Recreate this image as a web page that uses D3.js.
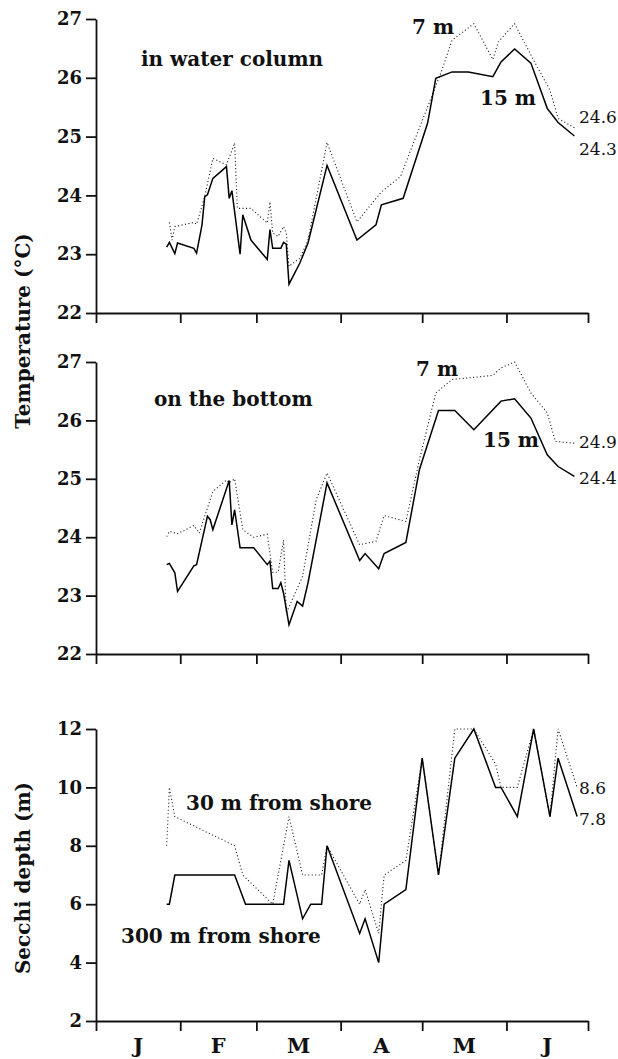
<!DOCTYPE html>
<html>
<head>
<meta charset="utf-8">
<script src="https://cdn.jsdelivr.net/npm/d3@7"></script>
<style>
  html, body { margin: 0; padding: 0; background: #fff; }
  svg { display: block; }
  .tick text { font-family: "DejaVu Serif", serif; font-weight: bold; font-size: 18px; fill: #111; }
  .lbl { font-family: "DejaVu Serif", serif; font-weight: bold; fill: #111; }
  .val { font-family: "DejaVu Serif", serif; font-size: 17px; fill: #111; }
</style>
</head>
<body>
<svg id="chart" width="618" height="1059"></svg>
<script>
// Month axis
const monthStarts = ["01-01", "02-01", "03-01", "04-01", "05-01", "06-01", "07-01"];
const monthLabels = ["J", "F", "M", "A", "M", "J"];

// Temperature ticks and Secchi ticks
const tempTicks = [22, 23, 24, 25, 26, 27];
const secchiTicks = [2, 4, 6, 8, 10, 12];

// Water column temperature, 15 m
const colDates15 = ["01-27","01-28","01-30","01-31","02-06","02-07","02-09","02-10","02-11","02-13","02-18","02-19","02-20","02-23","02-24","02-27","03-05","03-06","03-07","03-10","03-11","03-12","03-13","03-17","03-20","03-27","04-07","04-14","04-16","04-24","05-03","05-06","05-12","05-18","05-27","05-30","06-04","06-10","06-16","06-20","06-26"];
const colTemp15 = [23.12,23.20,23.01,23.19,23.10,23.02,23.50,23.98,24.01,24.29,24.49,23.95,24.08,23.00,23.67,23.24,22.91,23.42,23.10,23.10,23.20,23.17,22.49,22.85,23.19,24.51,23.24,23.50,23.84,23.95,25.23,25.99,26.10,26.10,26.02,26.27,26.49,26.25,25.48,25.24,25.01];

// Water column temperature, 7 m
const colDates7 = ["01-28","01-29","01-30","02-06","02-07","02-10","02-13","02-18","02-21","02-22","02-27","03-05","03-06","03-07","03-09","03-11","03-12","03-13","03-14","03-17","03-20","03-27","04-07","04-16","04-23","05-08","05-12","05-20","05-27","05-29","06-04","06-11","06-17","06-20","06-26"];
const colTemp7 = [23.54,23.24,23.47,23.54,23.51,23.98,24.63,24.52,24.89,23.78,23.78,23.53,23.89,23.36,23.30,23.47,23.36,22.79,22.83,22.93,23.24,24.90,23.55,24.06,24.32,26.10,26.64,26.92,26.31,26.61,26.92,26.30,25.79,25.31,25.15];

// Bottom temperature, 15 m
const botDates15 = ["01-27","01-28","01-30","01-31","02-06","02-07","02-11","02-12","02-13","02-19","02-20","02-21","02-23","02-28","03-05","03-06","03-07","03-09","03-10","03-11","03-13","03-16","03-18","03-20","03-27","04-08","04-10","04-15","04-17","04-25","04-30","05-07","05-13","05-20","05-30","06-04","06-10","06-16","06-20","06-26"];
const botTemp15 = [23.53,23.55,23.39,23.07,23.51,23.53,24.36,24.30,24.13,24.97,24.21,24.47,23.82,23.82,23.53,23.59,23.12,23.12,23.22,23.04,22.50,22.90,22.82,23.22,24.93,23.60,23.72,23.46,23.72,23.91,25.16,26.17,26.17,25.84,26.33,26.37,26.04,25.41,25.21,25.04];

// Bottom temperature, 7 m
const botDates7 = ["01-27","01-28","01-31","02-06","02-08","02-10","02-13","02-18","02-19","02-21","02-24","02-28","03-05","03-07","03-09","03-11","03-12","03-18","03-23","03-27","04-08","04-14","04-17","04-25","04-30","05-06","05-12","05-27","05-30","06-04","06-10","06-16","06-19","06-26"];
const botTemp7 = [24.01,24.10,24.06,24.20,24.07,24.36,24.78,24.98,24.93,25.00,24.13,24.00,24.05,23.40,23.40,23.95,22.70,23.33,24.64,25.10,23.87,23.93,24.37,24.27,25.33,26.47,26.70,26.77,26.90,27.00,26.47,26.13,25.64,25.61];

// Secchi depth, 300 m from shore
const secDates300 = ["01-27","01-28","01-30","02-21","02-25","03-11","03-13","03-18","03-21","03-25","03-27","04-08","04-10","04-15","04-17","04-25","05-01","05-07","05-13","05-20","05-28","05-30","06-05","06-11","06-17","06-20","06-27"];
const secchi300 = [6,6,7,7,6,6,7.5,5.5,6,6,8,5,5.5,4,6,6.5,11,7,11,12,10,10,9,12,9,11,9];

// Secchi depth, 30 m from shore
const secDates30 = ["01-27","01-28","01-30","02-21","02-24","03-07","03-13","03-18","03-25","03-27","04-08","04-10","04-15","04-17","04-25","05-01","05-07","05-13","05-20","05-28","05-30","06-05","06-11","06-17","06-20","06-27"];
const secchi30 = [8,10,9,8,7,6,9,7,7,8,6,6.5,5,7,7.5,11,7,12,12,10.8,10,10,12,9,12,10];

// Season means printed at the right end of each pair
const colMeans = ["24.6", "24.3"];
const botMeans = ["24.9", "24.4"];
const secMeans = ["8.6", "7.8"];

const parse = d3.timeParse("%m-%d");
const svg = d3.select("#chart");

const x = d3.scaleTime()
  .domain([parse(monthStarts[0]), parse(monthStarts[monthStarts.length - 1])])
  .range([96, 588]);

const panels = [
  { domain: [22, 27], range: [313, 19], ticks: tempTicks },
  { domain: [22, 27], range: [654, 362], ticks: tempTicks },
  { domain: [2, 12], range: [1021, 729], ticks: secchiTicks }
];

panels.forEach(p => {
  p.y = d3.scaleLinear().domain(p.domain).range(p.range);
  const g = svg.append("g");
  const ya = g.append("g")
    .attr("transform", "translate(96,0)")
    .call(d3.axisLeft(p.y).tickValues(p.ticks).tickSize(10).tickSizeOuter(0).tickPadding(4).tickFormat(d3.format("d")));
  const xa = g.append("g")
    .attr("transform", `translate(0,${p.range[0]})`)
    .call(d3.axisBottom(x).tickValues(monthStarts.map(parse)).tickSize(10).tickSizeOuter(0).tickFormat(""));
  [ya, xa].forEach(a => {
    a.selectAll(".domain").attr("stroke", "#111").attr("stroke-width", 1.8);
    a.selectAll(".tick line").attr("stroke", "#111").attr("stroke-width", 1.8);
  });
});

function drawSeries(panel, dates, values, dotted) {
  const pts = dates.map((d, i) => [parse(d), values[i]]);
  const line = d3.line().x(d => x(d[0])).y(d => panel.y(d[1]));
  svg.append("path")
    .datum(pts)
    .attr("d", line)
    .attr("fill", "none")
    .attr("stroke", dotted ? "#222" : "#000")
    .attr("stroke-width", dotted ? 1.1 : 1.5)
    .attr("stroke-dasharray", dotted ? "1.1,2.4" : null)
    .attr("stroke-linejoin", "miter");
}

drawSeries(panels[0], colDates7, colTemp7, true);
drawSeries(panels[0], colDates15, colTemp15, false);
drawSeries(panels[1], botDates7, botTemp7, true);
drawSeries(panels[1], botDates15, botTemp15, false);
drawSeries(panels[2], secDates30, secchi30, true);
drawSeries(panels[2], secDates300, secchi300, false);

// Month names centred between the month ticks
const mids = monthStarts.slice(0, -1).map((m, i) => {
  const a = parse(m), b = parse(monthStarts[i + 1]);
  return new Date((+a + +b) / 2);
});
svg.selectAll(".month").data(monthLabels).join("text")
  .attr("class", "lbl")
  .attr("x", (d, i) => x(mids[i]))
  .attr("y", 1053)
  .attr("text-anchor", "middle")
  .attr("font-size", 21)
  .text(d => d);

// Axis titles
svg.append("text").attr("class", "lbl").attr("font-size", 20)
  .attr("transform", "translate(30,331) rotate(-90)")
  .attr("text-anchor", "middle").text("Temperature (°C)");
svg.append("text").attr("class", "lbl").attr("font-size", 20)
  .attr("transform", "translate(30,878) rotate(-90)")
  .attr("text-anchor", "middle").text("Secchi depth (m)");

// Panel captions and series names
const captions = [
  { t: "in water column", x: 141, y: 66 },
  { t: "7 m", x: 412, y: 34 },
  { t: "15 m", x: 480, y: 105 },
  { t: "on the bottom", x: 154, y: 406 },
  { t: "7 m", x: 416, y: 376 },
  { t: "15 m", x: 483, y: 447 },
  { t: "30 m from shore", x: 186, y: 810 },
  { t: "300 m from shore", x: 121, y: 943 }
];
svg.selectAll(".cap").data(captions).join("text")
  .attr("class", "lbl").attr("font-size", 20)
  .attr("x", d => d.x).attr("y", d => d.y).text(d => d.t);

// Season means
const means = [
  { t: colMeans[0], y: 123 }, { t: colMeans[1], y: 155 },
  { t: botMeans[0], y: 448 }, { t: botMeans[1], y: 484 },
  { t: secMeans[0], y: 794 }, { t: secMeans[1], y: 825 }
];
svg.selectAll(".mean").data(means).join("text")
  .attr("class", "val")
  .attr("x", 579).attr("y", d => d.y).text(d => d.t);
</script>
</body>
</html>
